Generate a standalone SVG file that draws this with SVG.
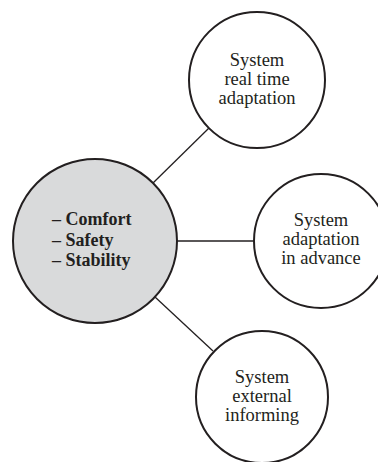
<svg xmlns="http://www.w3.org/2000/svg" width="378" height="462" viewBox="0 0 378 462">
<style>
.node{fill:#fff;stroke:#231f20;stroke-width:2}
.center{fill:#d9dadb;stroke:#231f20;stroke-width:2}
.conn{stroke:#231f20;stroke-width:1.3;fill:none}
text{font-family:"Liberation Serif","DejaVu Serif",serif;font-size:18.5px;fill:#231f20}
.m{text-anchor:middle}
.b{font-weight:bold;font-size:18px}
</style>
<rect width="378" height="462" fill="#fff"/>
<g id="connectors">
<line class="conn" x1="153" y1="183" x2="209" y2="128"/>
<line class="conn" x1="177" y1="241" x2="254" y2="241"/>
<line class="conn" x1="155" y1="297" x2="213" y2="351"/>
</g>
<g id="center">
<circle class="center" cx="95" cy="241" r="82"/>
<text class="b" x="52" y="225">– Comfort</text>
<text class="b" x="52" y="245.5">– Safety</text>
<text class="b" x="52" y="266">– Stability</text>
</g>
<g id="realtime">
<circle class="node" cx="257" cy="80" r="68"/>
<text class="m" x="257" y="66">System</text>
<text class="m" x="257" y="85">real time</text>
<text class="m" x="257" y="104">adaptation</text>
</g>
<g id="advance">
<circle class="node" cx="321" cy="241" r="67"/>
<text class="m" x="321" y="226">System</text>
<text class="m" x="321" y="245">adaptation</text>
<text class="m" x="321" y="264">in advance</text>
</g>
<g id="external">
<circle class="node" cx="262" cy="397" r="66"/>
<text class="m" x="262" y="383">System</text>
<text class="m" x="262" y="402">external</text>
<text class="m" x="262" y="421">informing</text>
</g>
</svg>
